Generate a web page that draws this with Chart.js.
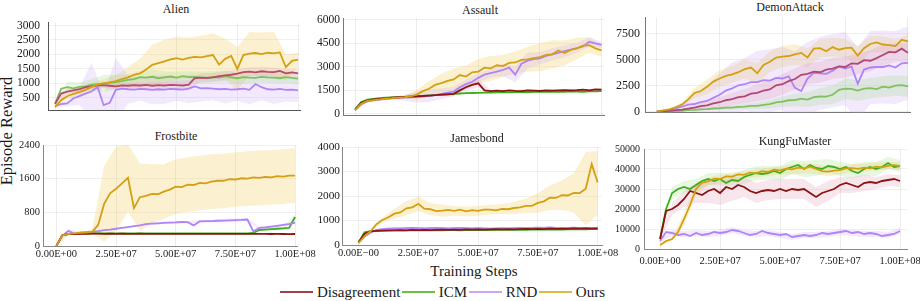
<!DOCTYPE html>
<html>
<head>
<meta charset="utf-8">
<script src="https://cdn.jsdelivr.net/npm/chart.js"></script>
<style>
body { margin: 0; background: #fff; width: 920px; height: 301px; overflow: hidden; position: relative;
       font-family: "Liberation Serif", "Times New Roman", serif; color: #1a1a1a; }
canvas { position: absolute; }
.txt { position: absolute; white-space: nowrap; transform: translate(-50%, -50%); line-height: 1; }
#legend { position: absolute; left: 280px; top: 283px; height: 18px; display: flex; align-items: center; font-size: 15px; }
#legend .ln { display: inline-block; width: 33px; height: 1.5px; margin-right: 4px; }
#legend .tx { margin-right: 1.5px; }
</style>
</head>
<body>
<div class="txt" style="left:7px;top:131px;font-size:16.5px;transform:translate(-50%,-50%) rotate(-90deg)">Episode Reward</div>
<div class="txt" style="left:474px;top:271px;font-size:15px">Training Steps</div>
<div id="legend"></div>
<script>
const seriesNames = ['Disagreement', 'ICM', 'RND', 'Ours']

const steps = [0,2.5e6,5e6,7.5e6,1e7,1.25e7,1.5e7,1.75e7,2e7,2.25e7,2.5e7,2.75e7,3e7,3.25e7,3.5e7,3.75e7,4e7,4.25e7,4.5e7,4.75e7,
  5e7,5.25e7,5.5e7,5.75e7,6e7,6.25e7,6.5e7,6.75e7,7e7,7.25e7,7.5e7,7.75e7,8e7,8.25e7,8.5e7,8.75e7,9e7,9.25e7,9.5e7,9.75e7,1e8]
const bandSteps = [0,5e6,1e7,1.5e7,2e7,2.5e7,3e7,3.5e7,4e7,4.5e7,5e7,5.5e7,6e7,6.5e7,7e7,7.5e7,8e7,8.5e7,9e7,9.5e7,1e8]

const xTicks = [0, 2.5e7, 5e7, 7.5e7, 1e8]
const xTickLabels = ['0.00E+00', '2.50E+07', '5.00E+07', '7.50E+07', '1.00E+08']
const jamesXLabels = ['0.00E\u221200', '2.50E+07', '5.00E+07', '7.50E+07', '1.00E+08']

// Alien
const alienTicks = [500, 1000, 1500, 2000, 2500, 3000]
const alienDis = [300,650,720,760,800,870,900,930,940,920,900,930,920,940,930,950,920,940,930,950,940,930,960,1180,1200,1190,1210,1250,1280,1300,1340,1390,1410,1380,1420,1400,1390,1430,1350,1380,1350]
const alienIcm = [300,820,870,830,880,900,950,980,1000,1020,1050,1080,1120,1150,1220,1200,1230,1180,1210,1240,1200,1250,1220,1230,1200,1180,1220,1200,1250,1210,1180,1220,1200,1190,1230,1210,1200,1180,1220,1190,1170]
const alienRnd = [220,290,310,480,560,650,720,880,250,330,780,820,800,790,810,800,780,800,790,810,800,790,820,900,830,840,820,800,810,790,800,820,780,980,870,800,790,810,780,790,760]
const alienOurs = [180,420,560,640,700,780,880,960,1000,1040,1080,1150,1210,1300,1350,1480,1640,1700,1760,1830,1870,1820,1880,1920,1900,1940,1980,1650,1850,1950,1500,1980,2030,2050,2010,2060,2040,2070,1560,1780,1820]
const alienDisSd = [50,100,80,100,100,120,100,100,120,120,150,150,150,150,150,150,150,150,150,150,150]
const alienIcmSd = [80,200,150,200,300,250,200,200,250,200,200,200,200,200,200,200,200,200,200,200,200]
const alienRndSd = [50,100,300,1000,400,1100,500,400,500,500,400,500,450,400,500,400,500,450,500,400,400]
const alienOursSd = [30,100,120,150,150,200,350,500,700,750,750,700,750,750,700,750,750,750,750,450,250]

// Assault
const assaultTicks = [0, 1500, 3000, 4500, 6000]
const assaultDis = [250,700,850,920,960,1000,1030,1060,1080,1100,1120,1140,1170,1200,1230,1250,1280,1500,1700,1850,1950,1500,1450,1480,1450,1500,1470,1450,1500,1480,1460,1500,1480,1500,1520,1490,1510,1540,1500,1560,1550]
const assaultIcm = [300,750,900,950,1000,1030,1050,1070,1090,1110,1130,1150,1170,1200,1220,1250,1270,1300,1320,1330,1340,1350,1360,1370,1380,1370,1390,1400,1380,1400,1410,1400,1420,1400,1410,1430,1420,1410,1440,1430,1450]
const assaultRnd = [240,620,790,860,910,950,990,1020,1040,1060,1080,1100,1150,1200,1280,1350,1420,1700,1900,2050,2300,2500,2600,2700,2800,2950,2500,3200,3400,3500,3550,3700,3800,3900,4000,4100,4200,4300,4600,4500,4400]
const assaultOurs = [240,640,830,880,920,980,1000,1040,1060,1120,1230,1450,1600,1850,1960,2100,2200,2480,2380,2650,2700,2950,2900,3100,3050,3250,3280,3450,3480,3560,3620,3760,3800,4050,3880,4080,4180,4350,4380,4180,4050]
const assaultDisSd = [20,40,40,50,60,60,70,80,150,200,250,100,80,80,80,80,80,80,80,80,80]
const assaultIcmSd = [20,50,40,40,50,50,50,50,50,50,50,50,50,50,50,50,50,50,50,50,50]
const assaultRndSd = [20,50,60,100,200,350,400,350,300,300,300,300,400,500,500,400,400,400,300,300,200]
const assaultOursSd = [20,50,60,80,100,300,500,600,700,700,800,800,700,700,800,900,900,800,700,500,400]

// DemonAttack
const demonTicks = [0, 2500, 5000, 7500]
const demonDis = [30,60,110,170,230,320,420,560,620,820,930,1120,1230,1420,1500,1750,1820,2050,2150,2550,2650,2950,3150,3550,3650,3850,3800,4050,4150,4350,4300,4650,4600,4950,4900,5150,5450,5750,5700,6050,5650]
const demonIcm = [20,40,60,90,110,170,190,250,270,330,350,410,420,490,510,580,590,670,740,920,980,1120,1130,1270,1180,1420,1480,1460,1640,2120,2230,2210,2040,2230,2280,2190,2420,2330,2520,2560,2450]
const demonRnd = [50,100,200,350,500,700,760,950,1050,1350,1650,2050,2250,2550,2650,2850,2850,3050,3000,3250,3200,3400,2300,2000,3200,3750,3700,3650,3950,4350,4150,4350,2700,4050,4250,4300,4300,4450,4250,4650,4700]
const demonOurs = [60,150,250,450,700,1200,1800,2000,2400,2900,3200,3450,3600,3800,4100,4250,3700,4500,4800,5200,5300,5350,5500,5650,5200,6050,6100,5800,6200,5950,6100,6150,5400,6100,6500,6650,6450,6400,6300,6900,6750]
const demonDisSd = [10,30,80,200,400,500,600,700,800,900,1000,1000,1000,1000,1000,1000,1000,1000,1000,900,900]
const demonIcmSd = [10,20,40,80,100,150,200,250,300,400,500,600,700,800,900,1000,1000,1000,1000,1000,1000]
const demonRndSd = [20,100,300,800,1500,2000,2500,2500,3000,3000,3000,3500,3500,3500,3500,3500,3500,3500,3500,3500,3500]
const demonOursSd = [20,80,200,500,700,800,800,900,1000,1000,1000,1000,900,900,900,900,900,800,800,700,600]

// Frostbite
const frostTicks = [0, 800, 1600, 2400]
const frostDis = [0,260,280,285,290,290,292,292,290,292,290,292,290,290,292,290,290,288,290,290,288,290,288,288,290,288,288,290,288,288,286,288,286,286,288,286,285,286,285,284,285]
const frostIcm = [0,250,280,290,295,295,300,300,300,300,300,300,300,300,300,300,300,300,300,300,300,300,300,300,300,300,300,300,300,300,300,300,300,310,380,390,400,410,420,430,690]
const frostRnd = [0,240,360,290,320,330,340,355,375,390,410,430,450,470,490,520,530,540,550,555,560,570,565,490,585,590,590,600,605,610,615,620,630,350,430,440,460,480,500,520,555]
const frostOurs = [0,255,285,300,315,320,335,500,1000,1250,1360,1490,1620,900,1160,1190,1240,1230,1290,1340,1410,1400,1460,1450,1500,1490,1530,1550,1550,1590,1580,1610,1600,1630,1620,1640,1630,1660,1650,1670,1670]
const frostDisSd = [0,10,10,10,10,10,10,10,10,10,10,10,10,10,10,10,10,10,10,10,10]
const frostIcmSd = [0,10,10,10,10,10,10,10,10,10,10,10,10,10,10,10,10,20,30,40,60]
const frostRndSd = [0,40,20,20,20,20,20,20,30,30,30,30,30,30,40,40,40,30,30,30,30]
const frostOursSd = [0,20,30,50,900,1000,800,800,700,650,650,650,650,650,650,650,650,650,650,650,650]

// Jamesbond
const jamesTicks = [0, 1000, 2000, 3000, 4000]
const jamesDis = [100,450,560,580,590,600,600,610,600,620,610,620,610,620,630,620,630,620,640,630,640,630,640,650,640,650,640,650,660,650,660,650,670,660,670,660,680,670,680,670,680]
const jamesIcm = [100,520,570,580,590,590,600,600,600,610,600,610,600,610,600,610,610,600,610,620,610,620,610,620,620,630,620,630,620,630,630,640,630,640,630,640,640,650,640,650,650]
const jamesRnd = [100,350,500,620,650,670,680,680,690,700,690,680,690,700,690,680,690,700,690,680,690,680,670,680,690,680,690,700,690,700,710,700,720,700,690,700,710,690,700,690,690]
const jamesOurs = [80,350,560,850,1020,1130,1280,1330,1500,1540,1680,1480,1460,1380,1400,1430,1390,1440,1370,1420,1390,1440,1440,1410,1470,1460,1510,1540,1600,1600,1720,1780,1930,1920,2030,2020,2130,2120,2300,3300,2550]
const jamesDisSd = [10,30,30,30,30,30,30,30,30,30,30,30,30,30,30,30,30,30,30,30,30]
const jamesIcmSd = [10,30,30,30,30,30,30,30,30,30,30,30,30,30,30,30,30,30,30,30,30]
const jamesRndSd = [10,40,40,40,40,40,40,40,40,40,40,40,40,40,40,40,40,40,40,40,40]
const jamesOursSd = [20,50,100,200,300,300,250,250,200,200,200,200,200,250,300,400,500,600,800,1500,1300]

// KungFuMaster
const kfmTicks = [0, 10000, 20000, 30000, 40000, 50000]
const kfmDis = [5000,19000,20000,22000,25000,29000,28000,27000,29000,30000,28000,31000,30000,32000,31000,29000,28000,29000,29500,29000,30000,29000,30000,29500,30000,28000,26000,28000,29000,30000,32000,33000,32000,31000,33000,33500,33000,34000,34500,35000,34000]
const kfmIcm = [5000,20000,28000,30000,31000,30000,32000,34000,35000,34000,35000,33000,34500,34000,36000,37000,38000,37500,38000,39000,38000,40000,41000,42000,40000,42000,40500,40000,41500,41000,40000,41000,39000,38000,40000,41000,40000,41000,43000,41000,41500]
const kfmRnd = [4000,8500,8000,7000,7500,6500,8000,7000,7500,8500,8000,8500,9500,9000,8000,7000,7500,9000,8000,7500,7000,7500,6000,6500,7000,6500,7000,8000,7500,8000,8500,9000,8000,8500,7500,8000,7500,6500,7000,7500,9000]
const kfmOurs = [2000,4000,5000,8500,15000,22000,30000,33200,33800,35200,35000,36300,36200,37300,37100,38200,37800,38900,38600,39700,39300,40200,39800,40700,40300,41200,40000,38900,38700,39200,39400,40300,40400,40100,40700,40300,41200,40800,41600,41900,41500]
const kfmDisSd = [1000,3000,4000,5000,6000,6000,6000,5000,5000,5000,5000,5000,5000,5000,5000,4000,4000,4000,3000,3000,3000]
const kfmIcmSd = [1000,3000,3000,3000,3000,3000,3000,3500,3500,3500,3500,3500,4000,4000,3500,3500,3500,3500,3500,3000,3000]
const kfmRndSd = [500,1500,1500,1500,1500,1500,1500,1500,1500,1500,1500,1500,1500,1500,1500,1500,1500,1500,1500,1500,1500]
const kfmOursSd = [500,1000,3000,3000,2000,2000,2000,2000,2000,2000,2000,2500,2500,2500,2500,2000,2000,2000,2000,2000,2000]

const lineColors = ['#8b1414', '#3fae1c', '#b084f7', '#d4a012']
const bandColors = ['rgba(225,140,175,0.22)', 'rgba(150,220,120,0.22)', 'rgba(205,170,245,0.25)', 'rgba(240,205,90,0.28)']
const legendColors = ['#a0404c', '#70c040', '#c8a8f0', '#ddbb44']
const lineOrder = [1, 3, 2, 0]

// area = chart area [left, top, right, bottom] in page pixels; tint = line colours seen through the bands
const panels = [
    { title: 'Alien', tx: 176, ty: 9, area: [48, 18, 300, 122], xr: [-2.9e6, 1.008e8], yr: [80, 3090], yt: alienTicks, yfs: 11.5, ypad: 8, xl: null, axis: '#555',
      tint: ['#b84a6a', '#7cc25a', null, null],
      series: [[alienDis, alienDisSd], [alienIcm, alienIcmSd], [alienRnd, alienRndSd], [alienOurs, alienOursSd]] },
    { title: 'Assault', tx: 480, ty: 10, area: [343, 18, 604, 122], xr: [-4.9e6, 1.01e8], yr: [-80, 6120], yt: assaultTicks, yfs: 11.5, ypad: 3, xl: null, axis: '#777',
      series: [[assaultDis, assaultDisSd], [assaultIcm, assaultIcmSd], [assaultRnd, assaultRndSd], [assaultOurs, assaultOursSd]] },
    { title: 'DemonAttack', tx: 790, ty: 7, area: [645, 15, 910, 122], xr: [-4.7e6, 1.008e8], yr: [-80, 9060], yt: demonTicks, yfs: 12, ypad: 5, xl: null, axis: '#777',
      tint: ['#b04874', '#80c060', null, null],
      series: [[demonDis, demonDisSd], [demonIcm, demonIcmSd], [demonRnd, demonRndSd], [demonOurs, demonOursSd]] },
    { title: 'Frostbite', tx: 176, ty: 136, area: [43, 145, 297, 246], xr: [-5.6e6, 1.008e8], yr: [0, 2400], yt: frostTicks, yfs: 10.5, ypad: 3, xl: xTickLabels, xpad: 1.5, axis: '#888',
      series: [[frostDis, frostDisSd], [frostIcm, frostIcmSd], [frostRnd, frostRndSd], [frostOurs, frostOursSd]] },
    { title: 'Jamesbond', tx: 477, ty: 138, area: [342, 147, 602, 245], xr: [-6.9e6, 1.018e8], yr: [0, 4000], yt: jamesTicks, yfs: 11.3, ypad: 2, xl: jamesXLabels, xpad: 2, axis: '#888',
      series: [[jamesDis, jamesDisSd], [jamesIcm, jamesIcmSd], [jamesRnd, jamesRndSd], [jamesOurs, jamesOursSd]] },
    { title: 'KungFuMaster', tx: 795, ty: 141, area: [644, 149, 907, 249], xr: [-6.7e6, 1.029e8], yr: [0, 50000], yt: kfmTicks, yfs: 10, ypad: 4, xl: xTickLabels, xpad: 6, axis: '#888',
      series: [[kfmDis, kfmDisSd], [kfmIcm, kfmIcmSd], [kfmRnd, kfmRndSd], [kfmOurs, kfmOursSd]] },
]

const font = 'Liberation Serif'

function makePanel(p) {
    const [l, t, r, b] = p.area
    const W = 44, R = 26, T = 10, B = p.xl ? 24 : 3

    const title = document.createElement('div')
    title.className = 'txt'
    title.style.left = p.tx + 'px'
    title.style.top = p.ty + 'px'
    title.style.fontSize = '12px'
    title.textContent = p.title
    document.body.appendChild(title)

    const cv = document.createElement('canvas')
    cv.width = r - l + W + R
    cv.height = b - t + T + B
    cv.style.left = (l - W) + 'px'
    cv.style.top = (t - T) + 'px'
    document.body.appendChild(cv)

    const datasets = []
    p.series.forEach(([mean, sd], k) => {
        const lo = sd.map((d, j) => ({ x: bandSteps[j], y: mean[j * 2] - d }))
        const hi = sd.map((d, j) => ({ x: bandSteps[j], y: mean[j * 2] + d }))
        datasets.push({ data: lo, borderWidth: 0, pointRadius: 0, fill: false, order: 20 + k })
        datasets.push({ data: hi, borderWidth: 0, pointRadius: 0, fill: '-1', backgroundColor: bandColors[k], order: 20 + k })
    })
    p.series.forEach(([mean], k) => {
        datasets.push({
            label: seriesNames[k],
            data: mean.map((v, j) => ({ x: steps[j], y: v })),
            borderColor: (p.tint && p.tint[k]) || lineColors[k],
            borderWidth: 1.8,
            pointRadius: 0,
            fill: false,
            order: lineOrder[k],
        })
    })

    new Chart(cv, {
        type: 'line',
        data: { datasets },
        options: {
            responsive: false,
            animation: false,
            events: [],
            layout: { padding: { left: 0, right: R, top: T, bottom: 0 } },
            plugins: { legend: { display: false }, tooltip: { enabled: false } },
            scales: {
                x: {
                    type: 'linear', min: p.xr[0], max: p.xr[1],
                    afterBuildTicks: (s) => { s.ticks = xTicks.map((v) => ({ value: v })) },
                    afterFit: (s) => { s.height = B },
                    ticks: {
                        display: !!p.xl, autoSkip: false, maxRotation: 0, padding: p.xpad || 0,
                        color: '#1a1a1a', font: { family: font, size: 10.5 },
                        callback: (v, i) => (p.xl ? p.xl[i] : ''),
                    },
                    grid: { color: 'rgba(0,0,0,0.07)', drawTicks: false },
                    border: { color: p.axis, width: 1 },
                },
                y: {
                    min: p.yr[0], max: p.yr[1],
                    afterBuildTicks: (s) => { s.ticks = p.yt.map((v) => ({ value: v })) },
                    afterFit: (s) => { s.width = W },
                    ticks: {
                        padding: p.ypad, color: '#1a1a1a', font: { family: font, size: p.yfs },
                        callback: (v) => String(v),
                    },
                    grid: { color: 'rgba(0,0,0,0.06)', drawTicks: false },
                    border: { color: p.axis, width: 1 },
                },
            },
        },
    })
}

panels.forEach(makePanel)

const legend = document.getElementById('legend')
seriesNames.forEach((name, k) => {
    const ln = document.createElement('span')
    ln.className = 'ln'
    ln.style.background = legendColors[k]
    const tx = document.createElement('span')
    tx.className = 'tx'
    tx.textContent = name
    legend.appendChild(ln)
    legend.appendChild(tx)
})
</script>
</body>
</html>
